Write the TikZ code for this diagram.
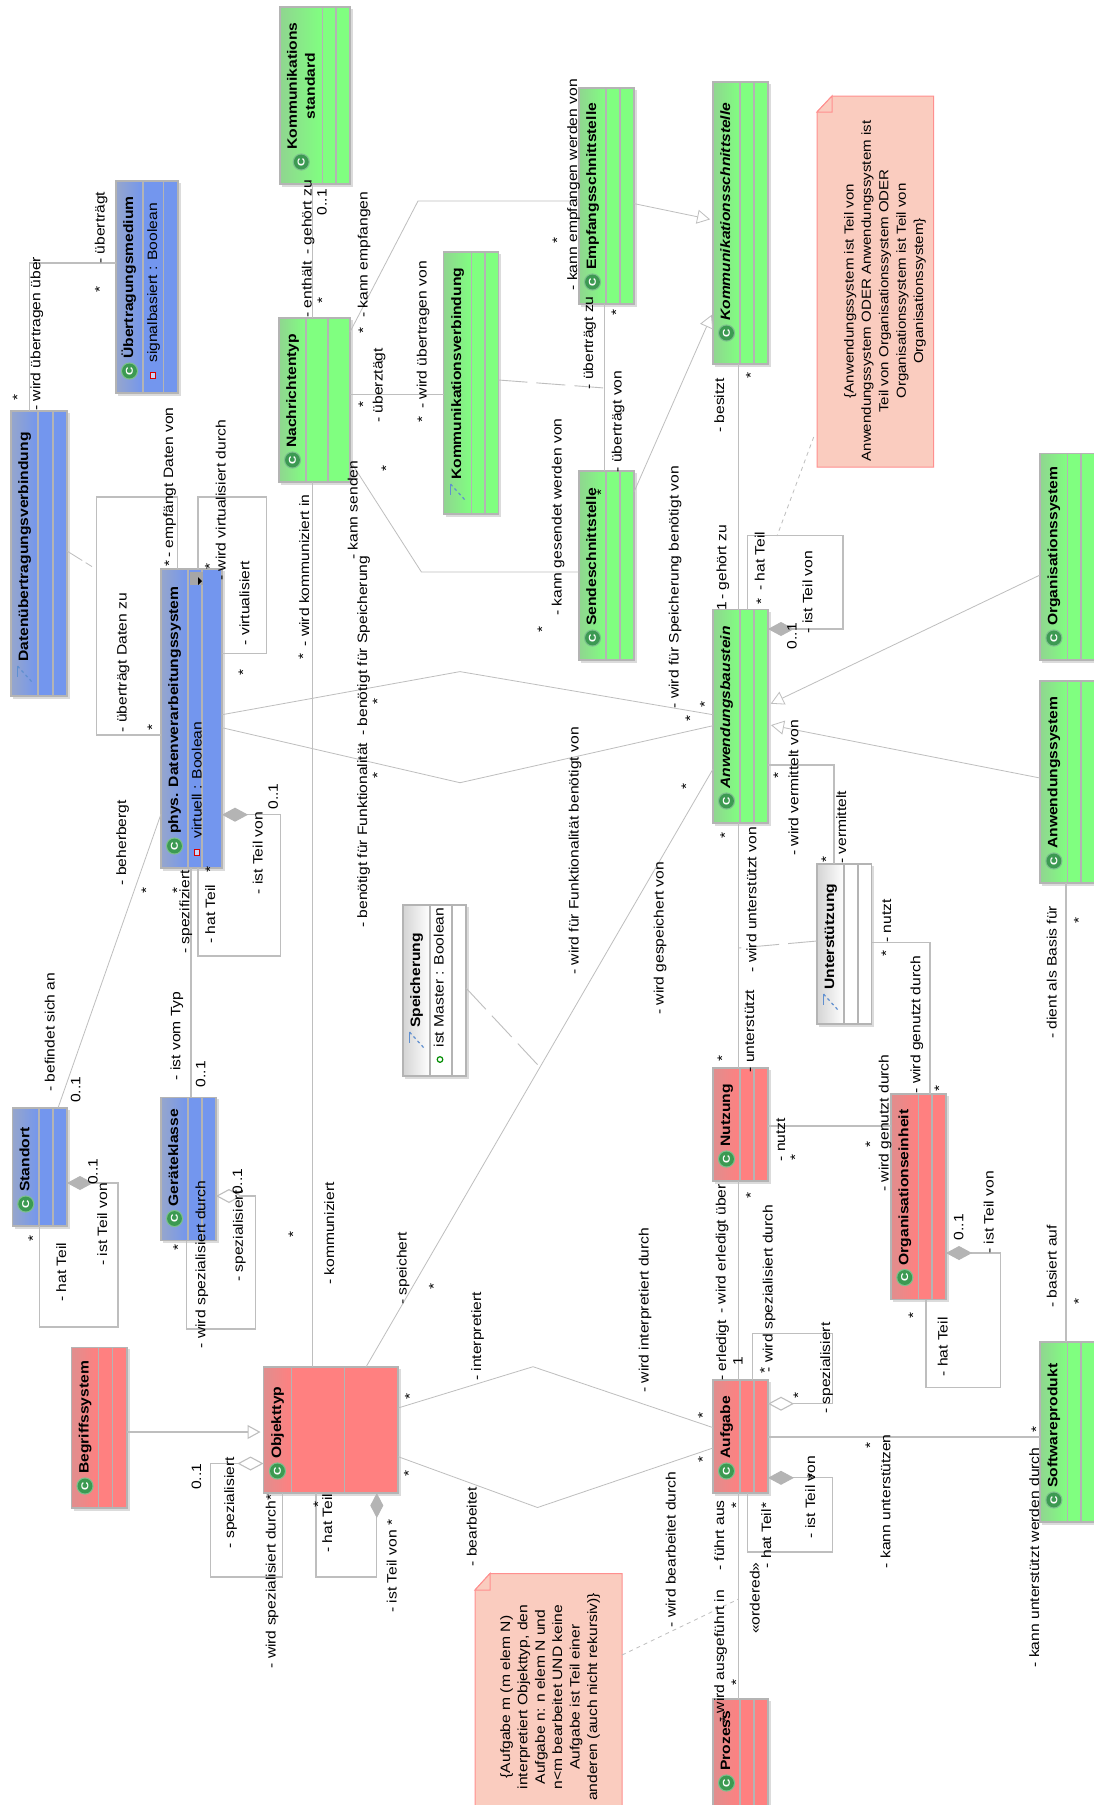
\documentclass[tikz,border=0pt]{standalone}
\usepackage{fontspec}
\setmainfont[FakeStretch=1.15]{Liberation Sans}
\usetikzlibrary{arrows.meta,fit}
\definecolor{cgreen}{HTML}{80FF80}\definecolor{cgreenL}{HTML}{90D590}
\definecolor{cblue}{HTML}{7396EE}\definecolor{cblueL}{HTML}{96A6CC}
\definecolor{cred}{HTML}{FF8080}\definecolor{credL}{HTML}{E08E8E}
\definecolor{cwhite}{HTML}{FFFFFF}\definecolor{cwhiteL}{HTML}{D4D4D4}
\definecolor{notef}{HTML}{FACCBF}\definecolor{noted}{HTML}{FF8F8F}
\definecolor{cgray}{HTML}{B4B4B4}\definecolor{lgray}{HTML}{BEBEBE}
\definecolor{iconG}{HTML}{3C9A52}\definecolor{iconR}{HTML}{7CC08C}
\definecolor{iconB}{HTML}{5F8FD0}
\tikzset{
 boxline/.style={draw=cgray,line width=1.1pt},
 conn/.style={draw=lgray,line width=1.1pt},
 thinconn/.style={draw=lgray,line width=.8pt},
 assocdash/.style={draw=lgray,line width=.9pt,dash pattern=on 29pt off 9pt},
 notedash/.style={draw=lgray,line width=.8pt,dash pattern=on 4pt off 4pt},
 partof/.style={{Diamond[length=26pt,width=14pt,fill=cgray,color=cgray]}-},
 sharedof/.style={{Diamond[length=26pt,width=14pt,fill=white]}-},
 partofv/.style={{Diamond[length=25pt,width=13pt,fill=cgray,color=cgray]}-},
 gen/.style={-{Triangle[length=13pt,width=14pt,fill=white]},shorten >=3pt},
 lbl/.style={rotate=90,anchor=base west,inner sep=0pt,font=\fontsize{13.6}{17}\selectfont},
 star/.style={rotate=90,anchor=base,inner sep=0pt,font=\fontsize{13.6}{17}\selectfont},
 ttl/.style={rotate=90,anchor=base west,inner sep=0pt,font=\fontsize{13.6}{17}\selectfont\bfseries},
 notetext/.style={rotate=90,inner sep=0pt,align=center,font=\fontsize{13.6}{17.4}\selectfont},
 note/.style={draw=noted,fill=notef,line width=1pt},
}
\newcounter{lbc}
\newcommand\lbl[3]{\stepcounter{lbc}\node[lbl] (lb\arabic{lbc}) at ({#1+3.6},#2) {#3};}
\newcommand\sta[2]{\stepcounter{lbc}\node[star] (lb\arabic{lbc}) at ({#1+7.9},#2) {*};}
\newcommand\classicon[3]{%
 \fill[iconR] (#2,#3) circle[radius=8.6pt];
 \fill[iconG] (#2,#3) circle[radius=7.4pt];
 \node[rotate=90,inner sep=0pt,text=white,font=\fontsize{10}{10}\selectfont\bfseries] (#1c) at (#2,#3) {C};}
\newcommand\associcon[3]{%
 \draw[iconB,line width=1.6pt] ({#2-7},{#3-8}) -- ({#2-7},{#3+3});
 \draw[iconB,line width=1.2pt,dash pattern=on 3pt off 3pt] ({#2-7},{#3-8}) -- ({#2+7.5},{#3+8});}
\let\theicon\classicon
\def\tof{34}
% name,x1,y1,x2,y2,c1,c2,palette,title
\newcommand\umlclass[9]{%
 \fill[black!14] ({#2+2},{#3+2}) rectangle ({#4+2.5},{#5+2.5});
 \shade[left color=#8L,right color=#8] (#2,#3) rectangle (#6,#5);
 \fill[#8] (#6,#3) rectangle (#4,#5);
 \draw[boxline] (#2,#3) rectangle (#4,#5);
 \draw[boxline] (#6,#3) -- (#6,#5) (#7,#3) -- (#7,#5);
 \node[inner sep=0pt,outer sep=0pt,fit={(#2,#3) (#4,#5)}] (#1) {};
 \pgfmathsetmacro\cxx{(#2+#6)/2}\pgfmathsetmacro\cyy{#5-\tof+12}%
 \theicon{#1}{\cxx}{\cyy}%
 \if\relax\detokenize{#9}\relax\else
 \node[ttl] (#1t) at ({\cxx+3.6},{#5-\tof}) {#9};\fi}
\begin{document}
\begin{tikzpicture}[x=1pt,y=-1pt]
\useasboundingbox (0,0) rectangle (1093,1805);
\fill[white] (0,0) rectangle (1093,1805);

% ---------- classes
\umlclass{kstd}{280}{7}{350}{184}{322.5}{336}{cgreen}{}
\node[rotate=90,inner sep=0pt,align=center,font=\fontsize{13.6}{18}\selectfont\bfseries] (kstdt) at (301,86) {Kommunikations\\standard};
\umlclass{uem}{116}{181}{178}{393}{143}{163.6}{cblue}{Übertragungsmedium}
\umlclass{nach}{279}{318}{350}{482}{306}{328}{cgreen}{Nachrichtentyp}
\umlclass{empf}{579}{88}{634}{304}{606}{620}{cgreen}{Empfangsschnittstelle}
\def\tof{43}
\umlclass{ksst}{713}{82}{768}{364}{740}{754}{cgreen}{\itshape Kommunikationsschnittstelle}
\def\tof{34}
\umlclass{send}{579}{471}{634}{660}{606}{620}{cgreen}{Sendeschnittstelle}
\umlclass{baus}{713}{609.5}{768}{823}{740}{754}{cgreen}{\itshape Anwendungsbaustein}
\umlclass{orgs}{1040}{453.5}{1097}{660}{1067.7}{1081}{cgreen}{Organisationssystem}
\umlclass{anws}{1040}{681}{1097}{883}{1067.7}{1081}{cgreen}{Anwendungssystem}
\umlclass{nutz}{713}{1068}{768}{1181}{740}{754}{cred}{Nutzung}
\umlclass{orge}{891}{1094}{946}{1299.5}{918.5}{932}{cred}{Organisationseinheit}
\umlclass{stao}{12.5}{1108}{67}{1226}{39}{53}{cblue}{Standort}
\umlclass{gera}{161}{1097.4}{216}{1240.5}{188}{202}{cblue}{Geräteklasse}
\umlclass{phys}{161}{569}{222}{868}{188}{202}{cblue}{phys. Datenverarbeitungssystem}
\umlclass{begr}{71.5}{1347.4}{127}{1508}{98.5}{112.5}{cred}{Begriffssystem}
\umlclass{obj}{263.5}{1367}{398}{1493}{291.4}{344.6}{cred}{Objekttyp}
\umlclass{aufg}{713}{1380}{768}{1493}{740}{754}{cred}{Aufgabe}
\umlclass{soft}{1040}{1342}{1097}{1522}{1067.7}{1081}{cgreen}{Softwareprodukt}
\def\tof{36}
\umlclass{proz}{713}{1699}{768}{1807}{740}{754}{cred}{Prozess}
\def\tof{34}
\let\theicon\associcon
\umlclass{dueb}{11}{411}{67}{696}{38}{53}{cblue}{Datenübertragungsverbindung}
\umlclass{kver}{443.5}{252}{498.5}{514}{471.5}{485}{cgreen}{Kommunikationsverbindung}
\umlclass{unte}{817}{864}{871.6}{1024}{844}{858}{cwhite}{Unterstützung}
\def\tof{48}
\umlclass{spei}{403}{905}{466}{1076}{430}{452}{cwhite}{Speicherung}
\def\tof{34}

% attribute marks
\draw[draw=red!85!black,fill=white!60!cblue,line width=1pt] (150.6,372.6) rectangle (155.6,378.6);
\node[lbl] (a1) at (157.2,363) {signalbasiert : Boolean};
\draw[draw=red!85!black,fill=white!60!cblue,line width=1pt] (194.5,849) rectangle (199.5,855);
\node[lbl] (a2) at (201.6,839) {virtuell : Boolean};
\draw[draw=green!55!black,fill=white,line width=1.2pt] (440,1059.5) circle[radius=2.8pt];
\node[lbl] (a3) at (443.6,1047.6) {ist Master : Boolean};
% collapse widget
\fill[black!35] (190,572) rectangle (203,585);
\fill[black] (198,577) -- (202,581) -- (198,585) -- cycle;

% ---------- notes
\path[note] (832,96) -- (933.6,96) -- (933.6,467) -- (817,467) -- (817,112) -- cycle;
\path[note] (832,96) -- (832,112) -- (817,112) -- cycle;
\node[notetext,font=\fontsize{13.1}{17.4}\selectfont] (n1) at (885,291) {\{Anwendungssystem ist Teil von\\Anwendungssystem ODER Anwendungssystem ist\\Teil von Organisationssystem ODER\\Organisationssystem ist Teil von\\Organisationssystem\}};
\path[note] (490,1573.5) -- (622,1573.5) -- (622,1808) -- (475,1808) -- (475,1590) -- cycle;
\path[note] (490,1573.5) -- (490,1590) -- (475,1590) -- cycle;
\node[notetext] (n2) at (550,1697) {\{Aufgabe m (m elem N)\\interpretiert Objekttyp, den\\Aufgabe n: n elem N und\\n<m bearbeitet UND keine\\Aufgabe ist Teil einer\\anderen (auch nicht rekursiv)\}};
\coordinate (n1a) at (813.7,437);
\coordinate (n1b) at (777,536);
\coordinate (n2a) at (622,1655);
\coordinate (n2b) at (738.6,1599);
\draw[notedash] (n1a) -- (n1b);
\draw[notedash] (n2a) -- (n2b);

% ---------- connectors
\draw[conn] (29.6,0 |- dueb.north) -- (29.6,263) -- (uem.west |- 0,263);
\draw[conn] (312.5,0 |- kstd.south) -- (312.5,0 |- nach.north);
\draw[thinconn] (nach.east |- 0,332) -- (418,201) -- (empf.west |- 0,201);
\draw[thinconn] (nach.east |- 0,460.6) -- (421.4,572) -- (send.west |- 0,572);
\draw[conn] (312.5,0 |- nach.south) -- (312.5,0 |- obj.north);
\draw[thinconn] (nach.east |- 0,394) -- (kver.west |- 0,394);
\draw[assocdash] (kver.east |- 0,380) -- (604.5,388);
\draw[conn] (604.5,0 |- empf.south) -- (604.5,0 |- send.north);
\draw[thinconn,gen] (empf.east |- 0,203.6) -- (ksst.west |- 0,220);
\draw[thinconn,gen] (send.east |- 0,492) -- (ksst.west |- 0,312);
\draw[conn] (738.6,0 |- ksst.south) -- (738.6,0 |- baus.north);
\draw[conn,partof] (baus.east |- 0,629) -- (843,629) -- (843,535.4) -- (747.4,535.4) -- (747.4,0 |- baus.north);
\draw[thinconn,gen] (orgs.west |- 0,575) -- (baus.east |- 0,705);
\draw[thinconn,gen] (anws.west |- 0,778) -- (baus.east |- 0,724.5);
\draw[conn] (baus.east |- 0,765) -- (834,765) -- (834,0 |- unte.north);
\draw[conn] (738.6,0 |- baus.south) -- (738.6,0 |- nutz.north);
\coordinate (uhelp) at (738.6,948);
\draw[assocdash] (unte.west |- 0,941) -- (uhelp);
\draw[conn] (unte.east |- 0,942.4) -- (930,942.4) -- (930,0 |- orge.north);
\draw[conn] (nutz.east |- 0,1126) -- (orge.west |- 0,1126);
\draw[conn] (738.6,0 |- nutz.south) -- (738.6,0 |- aufg.north);
\draw[conn] (738.6,0 |- aufg.south) -- (738.6,0 |- proz.north);
\draw[conn] (1066,0 |- anws.south) -- (1066,0 |- soft.north);
\draw[conn] (aufg.east |- 0,1437) -- (soft.west |- 0,1437);
\draw[conn,sharedof] (aufg.east |- 0,1403.7) -- (832.4,1403.7) -- (832.4,1333.5) -- (752.3,1333.5) -- (752.3,0 |- aufg.north);
\draw[conn,partof] (aufg.east |- 0,1477.8) -- (832.4,1477.8) -- (832.4,1552) -- (747.4,1552) -- (747.4,0 |- aufg.south);
\draw[conn,partof] (orge.east |- 0,1253) -- (1000.3,1253) -- (1000.3,1387.5) -- (926,1387.5) -- (926,0 |- orge.south);
\draw[thinconn] (obj.east |- 0,1408) -- (533,1366.7) -- (aufg.west |- 0,1427.6);
\draw[thinconn] (obj.east |- 0,1456.6) -- (537.5,1507.5) -- (aufg.west |- 0,1448);
\draw[conn,gen] (begr.east |- 0,1432) -- (obj.west |- 0,1432);
\draw[conn,sharedof] (obj.west |- 0,1463.5) -- (210.7,1463.5) -- (210.7,1577) -- (282.5,1577) -- (282.5,0 |- obj.south);
\draw[conn,partofv] (376.8,0 |- obj.south) -- (376.8,1577) -- (316,1577) -- (316,0 |- obj.south);
\draw[thinconn] (366,0 |- obj.north) -- (baus.west |- 0,769);
\coordinate (shelp) at (537.5,1064.6);
\draw[assocdash] (spei.east |- 0,988) -- (shelp);
\draw[thinconn] (phys.east |- 0,714.7) -- (460,671.6) -- (baus.west |- 0,714.7);
\draw[thinconn] (phys.east |- 0,727.7) -- (460,782.7) -- (baus.west |- 0,725.7);
\draw[conn] (phys.west |- 0,735) -- (96.4,735) -- (96.4,497) -- (177.5,497) -- (177.5,0 |- phys.north);
\coordinate (dhelp) at (92,566.6);
\draw[thinconn,dash pattern=on 18pt off 4pt] (dueb.east |- 0,551) -- (dhelp);
\draw[conn] (198,0 |- phys.north) -- (198,497) -- (266.8,497) -- (266.8,653.4) -- (phys.east |- 0,653.4);
\draw[conn,partof] (phys.east |- 0,814.7) -- (280.4,814.7) -- (280.4,956) -- (198,956) -- (198,0 |- phys.south);
\draw[thinconn] (58,0 |- stao.north) -- (phys.west |- 0,814);
\draw[conn] (191,0 |- phys.south) -- (191,0 |- gera.north);
\draw[conn,partof] (stao.east |- 0,1183) -- (118,1183) -- (118,1327) -- (39.3,1327) -- (39.3,0 |- stao.south);
\draw[conn,sharedof] (gera.east |- 0,1196) -- (255.4,1196) -- (255.4,1329) -- (186.8,1329) -- (186.8,0 |- gera.south);

% ---------- labels
\lbl{101}{264}{- überträgt}\sta{96.4}{289.4}
\lbl{36.8}{411}{- wird übertragen über}\sta{14.3}{397}
\lbl{308}{318}{- enthält}\lbl{308}{255}{- gehört zu}
\lbl{323}{215.5}{0..1}\sta{319}{300.5}
\lbl{364}{318}{- kann empfangen}\sta{360}{330}
\lbl{379}{423}{- überztägt}\sta{360}{404}
\lbl{423}{409}{- wird übertragen von}\sta{419}{419}\sta{383}{468}
\sta{554}{240}\lbl{573.5}{290.6}{- kann empfangen werden von}
\lbl{558}{616}{- kann gesendet werden von}\sta{539}{629}
\lbl{354}{560}{- kann senden}
\lbl{363.6}{928}{- benötigt für Funktionalität}
\lbl{363.6}{736}{- benötigt für Speicherung}
\lbl{589.4}{389.5}{- überträgt zu}\sta{613}{312}
\lbl{618}{472.5}{- überträgt von}\sta{598}{492}
\lbl{720.6}{433}{- besitzt}\sta{747.4}{375}
\lbl{675}{708.7}{- wird für Speicherung benötigt von}
\lbl{722.7}{611}{1}\lbl{722.7}{600}{- gehört zu}
\sta{758}{601}\lbl{761}{591}{- hat Teil}
\lbl{808.8}{633.6}{- ist Teil von}\lbl{793}{649.4}{0..1}
\lbl{794.7}{856}{- wird vermittelt von}\sta{775}{775}
\lbl{842.6}{864}{- vermittelt}\sta{823}{859}
\lbl{575}{975}{- wird für Funktionalität benötigt von}
\lbl{660}{1015}{- wird gespeichert von}\sta{683}{786}
\sta{687}{718.6}\sta{701.5}{704}\sta{721.7}{835}
\lbl{752.7}{972.5}{- wird unterstützt von}
\lbl{750.6}{1072.5}{- unterstützt}\sta{719}{1058.7}
\lbl{887.4}{943}{- nutzt}\sta{883}{953}
\lbl{916.7}{1093.5}{- wird genutzt durch}\sta{936}{1088}
\lbl{885}{1192}{- wird genutzt durch}\sta{867}{1144.5}
\lbl{781.6}{1161.5}{- nutzt}\sta{792}{1157.5}\sta{747.4}{1195}
\lbl{722}{1313.8}{- wird erledigt über}\lbl{722.4}{1381}{- erledigt}\lbl{739}{1366}{1}
\lbl{1053}{1039}{- dient als Basis für}\sta{1075.4}{920}
\lbl{1053}{1308}{- basiert auf}\sta{1075.4}{1301.5}
\lbl{769}{1372.5}{- wird spezialisiert durch}\sta{761.5}{1370}\sta{795}{1395.6}
\lbl{826.4}{1414}{- spezialisiert}
\lbl{645}{1393}{- wird interpretiert durch}\sta{699.4}{1415}\sta{699.4}{1459.6}
\lbl{672}{1627.5}{- wird bearbeitet durch}
\lbl{720.6}{1571}{- führt aus}\sta{733}{1505}\sta{733}{1682}
\lbl{720.6}{1723}{- wird ausgeführt in}\sta{722.7}{1719}
\lbl{756}{1634}{«ordered»}
\lbl{767.5}{1568.4}{- hat Teil}\sta{763}{1505}
\lbl{811.6}{1538.7}{- ist Teil von}\sta{808.8}{1476}
\lbl{886.7}{1568.4}{- kann unterstützen}\sta{867}{1445}
\lbl{1035.6}{1667.6}{- kann unterstützt werden durch}\sta{1033}{1429.5}
\lbl{959.8}{1240.5}{0..1}\lbl{990}{1254}{- ist Teil von}\sta{910}{1315}
\lbl{944}{1376.7}{- hat Teil}
\lbl{123}{732.5}{- überträgt Daten zu}\sta{149}{727.7}
\sta{166}{563.5}\lbl{169.6}{558}{- empfängt Daten von}
\lbl{222}{581}{- wird virtualisiert durch}\sta{206.4}{566}
\lbl{245.7}{645.5}{- virtualisiert}\sta{240}{672}
\lbl{305.4}{646.7}{- wird kommuniziert in}\sta{300}{656.5}
\sta{374.3}{701.6}\sta{374.3}{775}
\lbl{122.5}{885.5}{- beherbergt}\sta{142.9}{890}
\sta{174}{890}\sta{207}{869.7}
\lbl{185.7}{954}{- spezifiziert}
\lbl{211.4}{944}{- hat Teil}
\lbl{259}{894.6}{- ist Teil von}\lbl{274.3}{809.6}{0..1}
\lbl{51}{1092}{- befindet sich an}\lbl{76.8}{1103}{0..1}
\lbl{176.8}{1080.4}{- ist vom Typ}\lbl{201.8}{1087.5}{0..1}
\lbl{94}{1185}{0..1}\lbl{238.6}{1195}{0..1}
\lbl{62.5}{1302}{- hat Teil}\sta{29.6}{1238.6}
\lbl{103.6}{1266}{- ist Teil von}
\lbl{201.8}{1348.5}{- wird spezialisiert durch}\sta{174.6}{1247}
\lbl{239.3}{1282}{- spezialisiert}
\sta{290}{1234.7}\lbl{330.4}{1285}{- kommuniziert}
\lbl{402.9}{1305}{- speichert}\sta{430.4}{1286}
\lbl{477.5}{1381}{- interpretiert}\sta{406.4}{1396.8}\sta{405.4}{1473}
\lbl{473}{1566.5}{- bearbeitet}
\lbl{197.5}{1490}{0..1}\lbl{230.4}{1548.4}{- spezialisiert}
\lbl{272}{1668.7}{- wird spezialisiert durch*}
\sta{315}{1504.8}\lbl{328.6}{1553}{- hat Teil}
\lbl{393}{1612.8}{- ist Teil von *}
\end{tikzpicture}
\end{document}
